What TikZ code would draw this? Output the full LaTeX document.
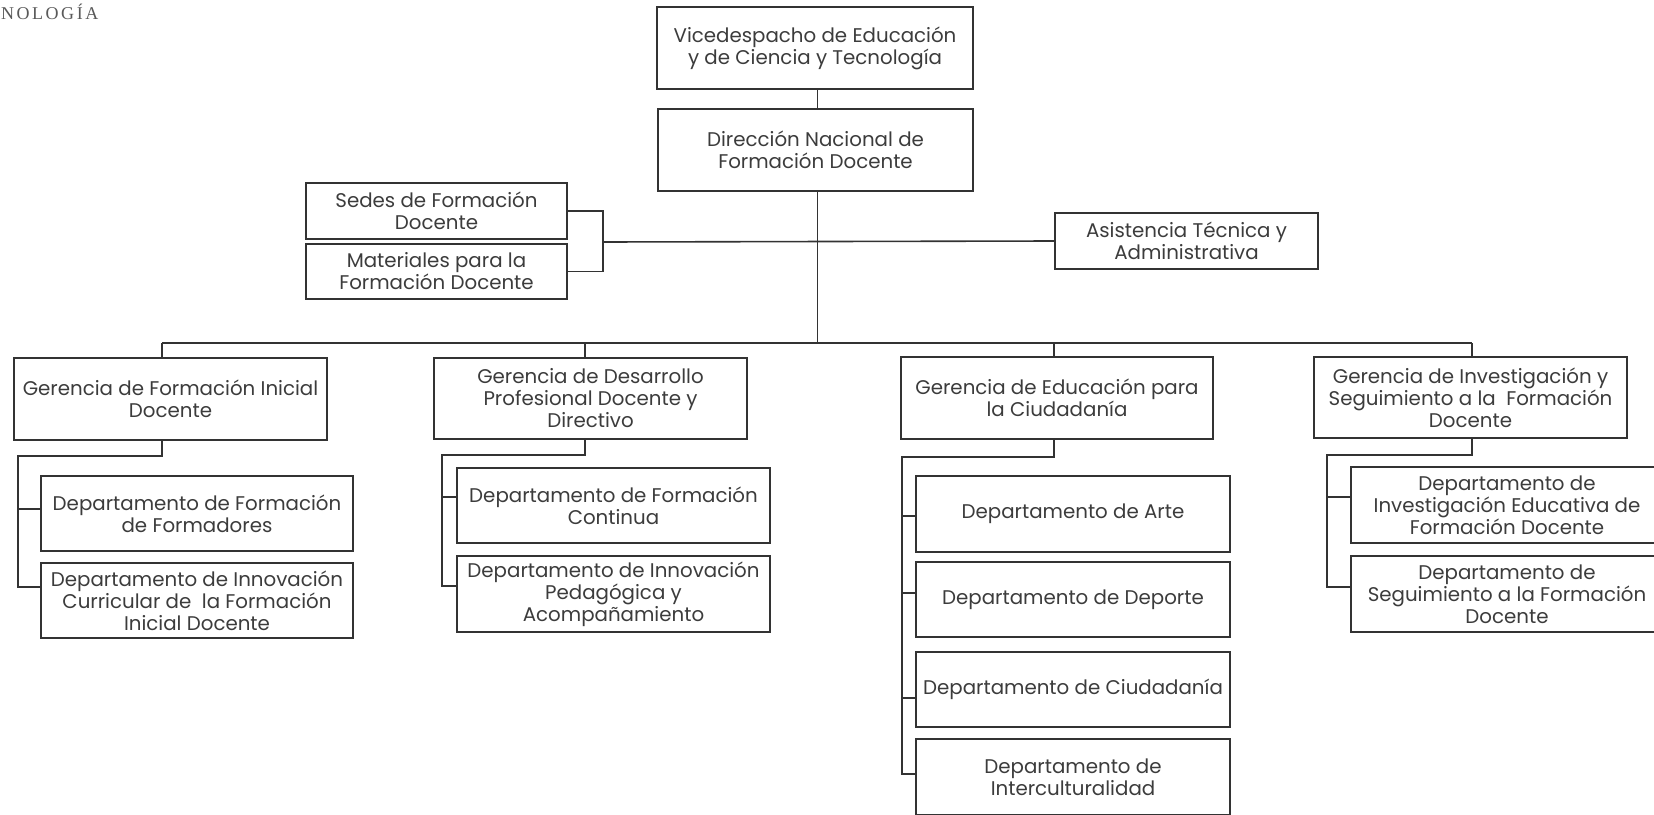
\documentclass[tikz,border=0pt]{standalone}
\usepackage{fontspec}
\setmainfont{Poppins}
\newfontfamily\serifhead[LetterSpace=14]{Liberation Serif}
\definecolor{linec}{HTML}{333333}
\definecolor{textc}{HTML}{3C3C3C}
\begin{document}
\begin{tikzpicture}[x=1pt,y=-1pt,
  box/.style={draw=linec, line width=1.6pt, text=textc, align=center, inner sep=0pt,
    font=\fontsize{19.8}{22}\selectfont},
  conn/.style={draw=linec, line width=1.6pt}]
\useasboundingbox (0,0) rectangle (1654,814);
\clip (0,0) rectangle (1654,814);
\fill[white] (0,0) rectangle (1654,814);

\node[anchor=west, text=textc!85, inner sep=0pt, font=\serifhead\fontsize{18}{22}\selectfont] (head) at (1,12) {NOLOGÍA};

% top
\node[box, minimum width=316pt, minimum height=82pt] (vice) at (815,48) {Vicedespacho de Educación\\y de Ciencia y Tecnología};
\node[box, minimum width=315pt, minimum height=82pt] (dir) at (815.5,150) {Dirección Nacional de\\Formación Docente};

% staff
\node[box, minimum width=261pt, minimum height=56pt] (sedes) at (436.5,211) {Sedes de Formación\\Docente};
\node[box, minimum width=261pt, minimum height=55pt] (mat) at (436.5,271.5) {Materiales para la\\Formación Docente};
\node[box, minimum width=263pt, minimum height=56pt] (asis) at (1186.5,241) {Asistencia Técnica y\\Administrativa};

% gerencias
\node[box, minimum width=313pt, minimum height=82pt] (g1) at (170.5,399) {Gerencia de Formación Inicial\\Docente};
\node[box, minimum width=313pt, minimum height=81pt] (g2) at (590.5,398.5) {Gerencia de Desarrollo\\Profesional Docente y\\Directivo};
\node[box, minimum width=312pt, minimum height=82pt] (g3) at (1057,398) {Gerencia de Educación para\\la Ciudadanía};
\node[box, minimum width=313pt, minimum height=81pt] (g4) at (1470.5,397.5) {Gerencia de Investigación y\\Seguimiento a la~ Formación\\Docente};

% departamentos
\node[box, minimum width=312pt, minimum height=75pt] (d11) at (197,513.5) {Departamento de Formación\\de Formadores};
\node[box, minimum width=312pt, minimum height=75pt] (d12) at (197,600.5) {Departamento de Innovación\\Curricular de~ la Formación\\Inicial Docente};
\node[box, minimum width=313pt, minimum height=75pt] (d21) at (613.5,505.5) {Departamento de Formación\\Continua};
\node[box, minimum width=313pt, minimum height=76pt] (d22) at (613.5,594) {Departamento de Innovación\\Pedagógica y\\Acompañamiento};
\node[box, minimum width=314pt, minimum height=76pt] (d31) at (1073,514) {Departamento de Arte};
\node[box, minimum width=314pt, minimum height=75pt] (d32) at (1073,599.5) {Departamento de Deporte};
\node[box, minimum width=314pt, minimum height=75pt] (d33) at (1073,689.5) {Departamento de Ciudadanía};
\node[box, minimum width=314pt, minimum height=76pt] (d34) at (1073,777) {Departamento de\\Interculturalidad};
\node[box, minimum width=312pt, minimum height=76pt] (d41) at (1507,505) {Departamento de\\Investigación Educativa de\\Formación Docente};
\node[box, minimum width=312pt, minimum height=76pt] (d42) at (1507,594) {Departamento de\\Seguimiento a la Formación\\Docente};

% bus coordinates
\coordinate (trunk) at (817.5,343);
\coordinate (staff) at (603,242);
\coordinate (b1) at (162,343);
\coordinate (b2) at (585,343);
\coordinate (b3) at (1054,343);
\coordinate (b4) at (1472,343);
\coordinate (s1) at (18,456);
\coordinate (s2) at (442,455);
\coordinate (s3) at (902,457);
\coordinate (s4) at (1327,455);
% tick points on the departments
\coordinate (t11) at ([yshift=4.5pt]d11.west);
\coordinate (t12) at ([yshift=13.5pt]d12.west);
\coordinate (t21) at ([yshift=8.5pt]d21.west);
\coordinate (t22) at ([yshift=8pt]d22.west);
\coordinate (t31) at ([yshift=-2pt]d31.west);
\coordinate (t32) at ([yshift=6.5pt]d32.west);
\coordinate (t33) at ([yshift=-8.5pt]d33.west);
\coordinate (t34) at ([yshift=3pt]d34.west);
\coordinate (t41) at ([yshift=8pt]d41.west);
\coordinate (t42) at ([yshift=7pt]d42.west);

% main connectors
\draw[conn] (vice.south -| trunk) -- (dir.north -| trunk);
\draw[conn] (dir.south -| trunk) -- (trunk);
\draw[conn] (b1) -- (b4);
\draw[conn] (staff) -- (asis.west);
\draw[conn] (sedes.east) -| (staff) |- (mat.east);
\draw[conn] (b1) -- (g1.north -| b1);
\draw[conn] (b2) -- (g2.north -| b2);
\draw[conn] (b3) -- (g3.north -| b3);
\draw[conn] (b4) -- (g4.north -| b4);

% subtrees
\draw[conn] (g1.south -| b1) |- (s1) |- (t12);
\draw[conn] (s1 |- t11) -- (t11);

\draw[conn] (g2.south -| b2) |- (s2) |- (t22);
\draw[conn] (s2 |- t21) -- (t21);

\draw[conn] (g3.south -| b3) |- (s3) |- (t34);
\draw[conn] (s3 |- t31) -- (t31);
\draw[conn] (s3 |- t32) -- (t32);
\draw[conn] (s3 |- t33) -- (t33);

\draw[conn] (g4.south -| b4) |- (s4) |- (t42);
\draw[conn] (s4 |- t41) -- (t41);
\end{tikzpicture}
\end{document}
